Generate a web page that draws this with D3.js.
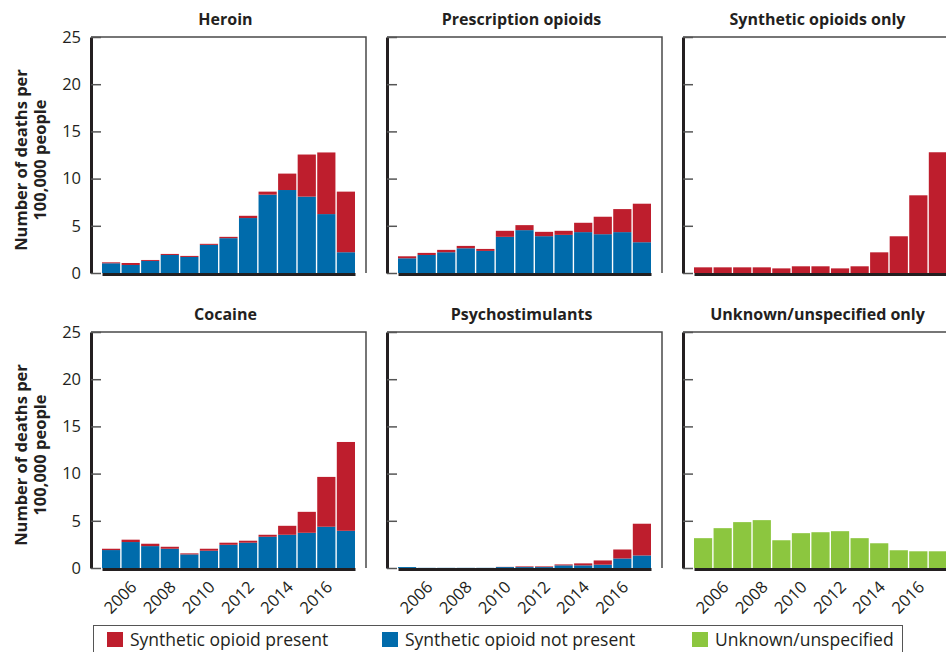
<!DOCTYPE html>
<html>
<head>
<meta charset="utf-8">
<script src="https://cdn.jsdelivr.net/npm/d3@7/dist/d3.min.js"></script>
<style>
  body { margin: 0; background: #fff; }
  svg { display: block; font-family: "Open Sans", sans-serif; }
</style>
</head>
<body>
<svg id="chart" width="946" height="652"></svg>
<script>
// categories and ticks
const years = [2005, 2006, 2007, 2008, 2009, 2010, 2011, 2012, 2013, 2014, 2015, 2016, 2017];
const xTickYears = [2006, 2008, 2010, 2012, 2014, 2016];
const yTicks = [0, 5, 10, 15, 20, 25];
const panelTitles = ["Heroin", "Prescription opioids", "Synthetic opioids only",
                     "Cocaine", "Psychostimulants", "Unknown/unspecified only"];
const legendLabels = ["Synthetic opioid present", "Synthetic opioid not present", "Unknown/unspecified"];

// deaths per 100,000
const heroinNotPresent = [1.03, 0.85, 1.28, 1.91, 1.70, 2.98, 3.69, 5.82, 8.30, 8.79, 8.09, 6.24, 2.20];
const heroinPresent    = [0.10, 0.21, 0.10, 0.11, 0.11, 0.11, 0.14, 0.24, 0.32, 1.74, 4.46, 6.53, 6.42];
const rxNotPresent     = [1.56, 1.91, 2.20, 2.62, 2.34, 3.83, 4.54, 3.90, 4.04, 4.33, 4.11, 4.33, 3.26];
const rxPresent        = [0.21, 0.22, 0.25, 0.25, 0.21, 0.64, 0.53, 0.46, 0.43, 0.99, 1.85, 2.44, 4.08];
const syntheticOnly    = [0.60, 0.60, 0.60, 0.60, 0.49, 0.71, 0.71, 0.49, 0.71, 2.19, 3.89, 8.23, 12.79];
const cocaineNotPresent = [1.90, 2.75, 2.32, 2.04, 1.44, 1.83, 2.46, 2.68, 3.31, 3.52, 3.73, 4.37, 3.94];
const cocainePresent    = [0.14, 0.25, 0.25, 0.21, 0.11, 0.21, 0.22, 0.21, 0.21, 0.95, 2.22, 5.28, 9.41];
const psychoNotPresent = [0.10, 0.02, 0.02, 0.02, 0.02, 0.10, 0.10, 0.10, 0.28, 0.28, 0.35, 1.01, 1.33];
const psychoPresent    = [0.00, 0.00, 0.00, 0.00, 0.00, 0.02, 0.07, 0.07, 0.10, 0.21, 0.45, 0.95, 3.36];
const unknownOnly      = [3.16, 4.22, 4.86, 5.07, 2.94, 3.69, 3.79, 3.90, 3.16, 2.62, 1.88, 1.77, 1.77];

const zeros = years.map(() => 0);
const panelSeries = [
  { notPresent: heroinNotPresent, present: heroinPresent, unknown: zeros },
  { notPresent: rxNotPresent, present: rxPresent, unknown: zeros },
  { notPresent: zeros, present: syntheticOnly, unknown: zeros },
  { notPresent: cocaineNotPresent, present: cocainePresent, unknown: zeros },
  { notPresent: psychoNotPresent, present: psychoPresent, unknown: zeros },
  { notPresent: zeros, present: zeros, unknown: unknownOnly }
];

const colors = { present: "#be1e2d", notPresent: "#006bab", unknown: "#8cc63f" };
const dark = "#231f20";

// layout
const colX = [91, 387, 683];
const rowTop = [37, 332];
const panelW = 275, panelH = 236;

const svg = d3.select("#chart");

const x = d3.scaleBand().domain(years).range([11, 264]).paddingInner(0.07);
const y = d3.scaleLinear().domain([0, 25]).range([panelH, 0]);

const stack = d3.stack().keys(["notPresent", "present", "unknown"]);

panelTitles.forEach((title, i) => {
  const col = i % 3, row = Math.floor(i / 3);
  const g = svg.append("g").attr("transform", "translate(" + colX[col] + "," + rowTop[row] + ")");
  const s = panelSeries[i];
  const rows = years.map((yr, j) => ({ year: yr, notPresent: s.notPresent[j], present: s.present[j], unknown: s.unknown[j] }));

  // title
  g.append("text")
    .attr("x", panelW / 2 - 3).attr("y", -12)
    .attr("text-anchor", "middle")
    .attr("font-size", 16).attr("font-weight", 700)
    .attr("fill", dark)
    .text(title);

  // bars
  stack(rows).forEach(layer => {
    g.append("g").selectAll("rect")
      .data(layer.filter(d => d[1] - d[0] > 0))
      .join("rect")
      .attr("x", d => x(d.data.year))
      .attr("width", x.bandwidth())
      .attr("y", d => y(d[1]))
      .attr("height", d => y(d[0]) - y(d[1]))
      .attr("fill", colors[layer.key]);
  });

  // top and right frame
  g.append("path")
    .attr("d", "M0,0H" + panelW + "V" + panelH)
    .attr("fill", "none").attr("stroke", "#4a4a4a").attr("stroke-width", 1.5);

  // y axis with inward ticks
  const yAxis = g.append("g")
    .call(d3.axisLeft(y).tickValues(yTicks).tickSizeInner(-10).tickSizeOuter(0).tickPadding(10));
  yAxis.select(".domain").attr("stroke", dark).attr("stroke-width", 3);
  yAxis.selectAll(".tick line").attr("stroke", "#555").attr("stroke-width", 1.5);
  yAxis.selectAll(".tick text")
    .attr("font-size", 16.5).attr("fill", dark).attr("font-family", "Open Sans, sans-serif")
    .style("display", col === 0 ? null : "none");

  // x axis
  const xAxis = g.append("g")
    .attr("transform", "translate(0," + (panelH + 1) + ")")
    .call(d3.axisBottom(x).tickValues(xTickYears).tickSize(0).tickPadding(0));
  xAxis.select(".domain").attr("stroke", dark).attr("stroke-width", 3);
  xAxis.selectAll(".tick text")
    .attr("font-size", 16.5).attr("fill", dark).attr("font-family", "Open Sans, sans-serif")
    .attr("text-anchor", "end")
    .attr("y", 0)
    .attr("dy", "0.35em")
    .attr("transform", "translate(3,15) rotate(-45)")
    .style("display", row === 1 ? null : "none");

  // y axis title
  if (col === 0) {
    const t = g.append("text")
      .attr("transform", "translate(-64," + (panelH / 2 + 5) + ") rotate(-90)")
      .attr("text-anchor", "middle")
      .attr("font-size", 16.5).attr("font-weight", 700).attr("fill", dark);
    t.append("tspan").attr("x", 0).attr("y", 0).text("Number of deaths per");
    t.append("tspan").attr("x", 0).attr("y", 19).text("100,000 people");
  }
});

// legend
const legend = svg.append("g");
legend.append("rect")
  .attr("x", 93.5).attr("y", 625.5).attr("width", 809).attr("height", 40)
  .attr("fill", "none").attr("stroke", "#555").attr("stroke-width", 1);

const legendKeys = ["present", "notPresent", "unknown"];
const legendX = [107, 382, 692];
legendLabels.forEach((label, i) => {
  legend.append("rect")
    .attr("x", legendX[i]).attr("y", 632).attr("width", 16).attr("height", 15)
    .attr("fill", colors[legendKeys[i]]);
  legend.append("text")
    .attr("x", legendX[i] + 23).attr("y", 646)
    .attr("font-size", 17.5).attr("fill", dark)
    .text(label);
});
</script>
</body>
</html>
